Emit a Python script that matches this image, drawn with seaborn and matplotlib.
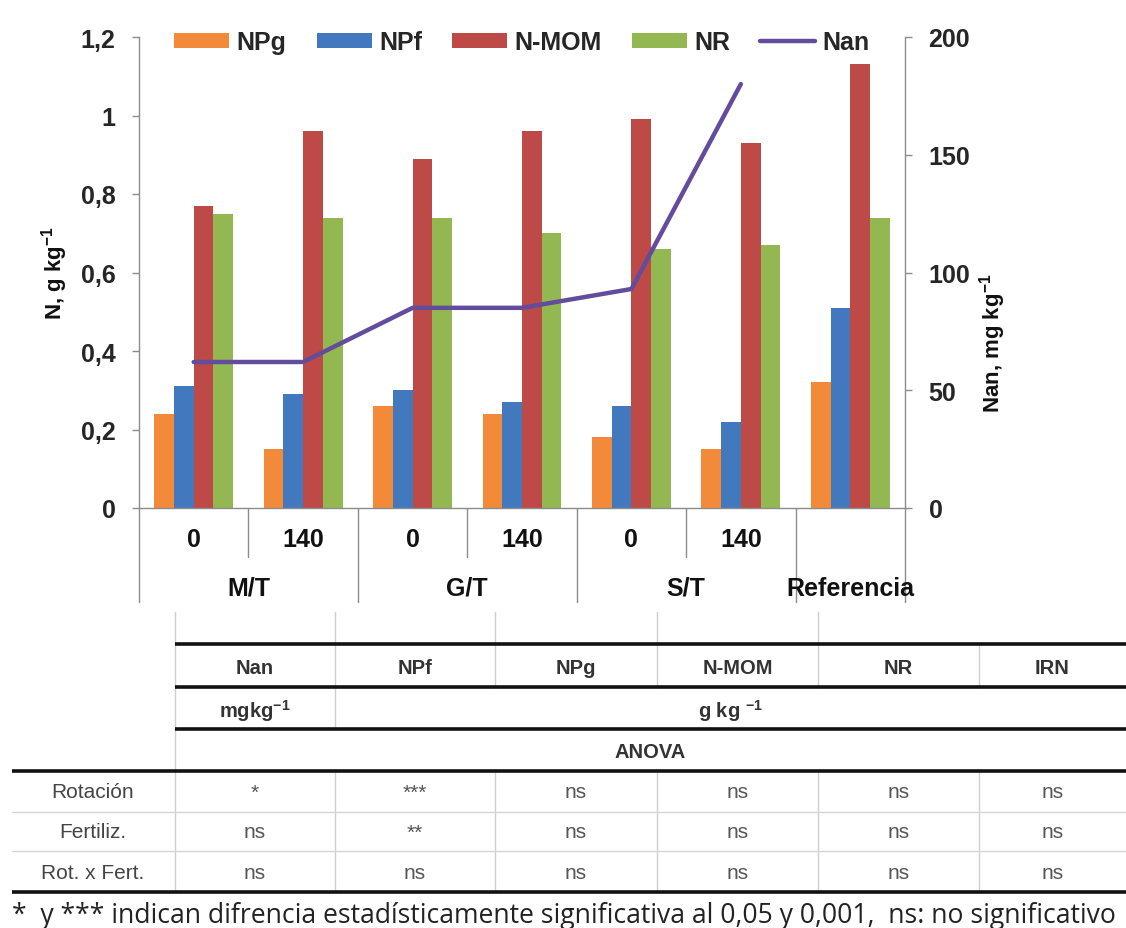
import numpy as np
import pandas as pd
import matplotlib
matplotlib.use("Agg")
import matplotlib.pyplot as plt
import matplotlib.transforms as mtransforms
from matplotlib.patches import Patch
from matplotlib.lines import Line2D
from matplotlib.ticker import FuncFormatter
import seaborn as sns

# ---- data -------------------------------------------------------------
categories = ["M/T 0", "M/T 140", "G/T 0", "G/T 140", "S/T 0", "S/T 140", "Referencia"]
dose_labels = ["0", "140", "0", "140", "0", "140", ""]
rotation_labels = ["M/T", "G/T", "S/T", "Referencia"]
rotation_pos = [0.5, 2.5, 4.5, 6.0]
series = ["NPg", "NPf", "N-MOM", "NR"]
npg = [0.24, 0.15, 0.26, 0.24, 0.18, 0.15, 0.32]
npf = [0.31, 0.29, 0.30, 0.27, 0.26, 0.22, 0.51]
nmom = [0.77, 0.96, 0.89, 0.96, 0.99, 0.93, 1.13]
nr = [0.75, 0.74, 0.74, 0.70, 0.66, 0.67, 0.74]
nan_mg = [62, 62, 85, 85, 93, 180]          # Nan, mg kg-1 (no value for Referencia)
left_ticks = [0, 0.2, 0.4, 0.6, 0.8, 1.0, 1.2]
right_ticks = [0, 50, 100, 150, 200]

table_cols = ["Nan", "NPf", "NPg", "N-MOM", "NR", "IRN"]
table_rows = ["Rotación", "Fertiliz.", "Rot. x Fert."]
table_vals = [
    ["*", "***", "ns", "ns", "ns", "ns"],
    ["ns", "**", "ns", "ns", "ns", "ns"],
    ["ns", "ns", "ns", "ns", "ns", "ns"],
]
footnote = "*  y *** indican difrencia estadísticamente significativa al 0,05 y 0,001,  ns: no significativo"

bar_colors = ["#F28A3A", "#4178BE", "#BD4A47", "#93B851"]
line_color = "#634C9C"
axis_grey = "#8C8C8C"

# ---- style --------------------------------------------------------------
sns.set_theme(style="white")
plt.rcParams["font.family"] = ["Liberation Sans", "DejaVu Sans"]
plt.rcParams["mathtext.fontset"] = "custom"
plt.rcParams["mathtext.rm"] = "Liberation Sans"
plt.rcParams["mathtext.bf"] = "Liberation Sans:bold"

W, H = 1126, 929
fig = plt.figure(figsize=(W / 100, H / 100), dpi=100)
fig.patch.set_facecolor("white")

x0, x1, y0, y1 = 139, 905, 38, 509   # plot area in pixels
ax = fig.add_axes([x0 / W, 1 - y1 / H, (x1 - x0) / W, (y1 - y0) / H])

df = pd.DataFrame({
    "cat": np.repeat(categories, len(series)),
    "serie": series * len(categories),
    "value": np.ravel(np.column_stack([npg, npf, nmom, nr])),
})
sns.barplot(data=df, x="cat", y="value", hue="serie", order=categories,
            hue_order=series, palette=bar_colors, width=0.72, gap=0,
            saturation=1, linewidth=0, legend=False, ax=ax)

ax.set_ylim(0, 1.2)
ax.set_xlim(-0.5, len(categories) - 0.5)
ax.set_yticks(left_ticks)
ax.yaxis.set_major_formatter(FuncFormatter(lambda v, p: f"{v:g}".replace(".", ",")))
ax.set_xlabel("")
ax.set_ylabel("")
ax.tick_params(axis="x", bottom=False, labelbottom=False)
ax.tick_params(axis="y", left=True, right=False, length=5, width=1, color=axis_grey,
               direction="out", pad=12, labelsize=18)
for lab in ax.get_yticklabels():
    lab.set_fontweight("bold")
for side in ["top", "right"]:
    ax.spines[side].set_visible(False)
for side in ["left", "bottom"]:
    ax.spines[side].set_color(axis_grey)
    ax.spines[side].set_linewidth(1)

# secondary axis for Nan
ax2 = ax.twinx()
sns.lineplot(x=np.arange(len(nan_mg)), y=nan_mg, color=line_color, linewidth=3.2,
             ax=ax2, legend=False)
ax2.set_ylim(0, 200)
ax2.set_xlim(-0.5, len(categories) - 0.5)
ax2.set_yticks(right_ticks)
ax2.set_ylabel("")
ax2.tick_params(axis="y", right=True, left=False, length=5, width=1, color=axis_grey,
                direction="out", pad=12, labelsize=18)
for lab in ax2.get_yticklabels():
    lab.set_fontweight("bold")
for side in ["top", "left", "bottom"]:
    ax2.spines[side].set_visible(False)
ax2.spines["right"].set_color(axis_grey)
ax2.spines["right"].set_linewidth(1)

# two-level category axis
trans = mtransforms.blended_transform_factory(ax.transData, ax.transAxes)
long_y = (y1 - 603) / (y1 - y0)
short_y = (y1 - 558) / (y1 - y0)
for xs in [-0.5, 1.5, 3.5, 5.5, 6.5]:
    ax.plot([xs, xs], [0, long_y], transform=trans, color=axis_grey, lw=1, clip_on=False)
for xs in [0.5, 2.5, 4.5]:
    ax.plot([xs, xs], [0, short_y], transform=trans, color=axis_grey, lw=1, clip_on=False)
for i, lab in enumerate(dose_labels):
    ax.text(i, (y1 - 540) / (y1 - y0), lab, transform=trans, ha="center", va="center",
            fontsize=18, fontweight="bold", color="#111111")
for xp, lab in zip(rotation_pos, rotation_labels):
    ax.text(xp, (y1 - 589) / (y1 - y0), lab, transform=trans, ha="center", va="center",
            fontsize=18, fontweight="bold", color="#111111")

fig.text(55 / W, 1 - 273 / H, r"N, g kg$^{\mathbf{-1}}$", rotation=90, ha="center",
         va="center", fontsize=16, fontweight="bold", color="#111111")
fig.text(993 / W, 1 - 343 / H, r"Nan, mg kg$^{\mathbf{-1}}$", rotation=90, ha="center",
         va="center", fontsize=16, fontweight="bold", color="#111111")

handles = [Patch(facecolor=c, edgecolor="none", label=s) for c, s in zip(bar_colors, series)]
handles.append(Line2D([], [], color=line_color, lw=3.2, label="Nan"))
fig.legend(handles=handles, loc="center", bbox_to_anchor=(522 / W, 1 - 43 / H),
           bbox_transform=fig.transFigure, ncol=5, frameon=False,
           prop={"weight": "bold", "size": 18}, handlelength=2.2, handleheight=0.55,
           handletextpad=0.3, columnspacing=1.2, borderpad=0)

# ---- ANOVA table (pixel coordinates) ------------------------------------
tx = fig.add_axes([0, 0, 1, 1], facecolor="none")
tx.set_xlim(0, W)
tx.set_ylim(H, 0)
tx.axis("off")

col_edges = [175, 335, 495, 657, 818, 979, 1126]
grid_c = "#CFCFCF"
# light vertical rules
vsegs = [
    (175, 613, 893),
    (335, 613, 730), (335, 772, 893),
    (495, 613, 688), (495, 772, 893),
    (657, 613, 688), (657, 772, 893),
    (818, 613, 688), (818, 772, 893),
    (979, 645, 688), (979, 772, 893),
]
for xv, ya, yb in vsegs:
    tx.plot([xv, xv], [ya, yb], color=grid_c, lw=1)
# thick horizontal rules
for yv, xa in [(645, 175), (688, 175), (730, 175), (772, 12), (893, 12)]:
    tx.plot([xa, W], [yv, yv], color="#111111", lw=2.6, solid_capstyle="butt")
for yv in [813, 852]:
    tx.plot([12, W], [yv, yv], color="#D5D5D5", lw=1)

head_fs = 14.5
body_fs = 15
centers = [(a + b) / 2 for a, b in zip(col_edges[:-1], col_edges[1:])]
for cx, name in zip(centers, table_cols):
    tx.text(cx, 668, name, ha="center", va="center", fontsize=head_fs, fontweight="bold",
            color="#333333")
tx.text(centers[0], 711, r"mgkg$^{\mathbf{-1}}$", ha="center", va="center", fontsize=head_fs,
        fontweight="bold", color="#333333")
tx.text((335 + W) / 2, 711, r"g kg $^{\mathbf{-1}}$", ha="center", va="center",
        fontsize=head_fs, fontweight="bold", color="#333333")
tx.text((175 + W) / 2, 752, "ANOVA", ha="center", va="center", fontsize=head_fs,
        fontweight="bold", color="#333333")

row_y = [793, 833, 874]
for ry, rname, vals in zip(row_y, table_rows, table_vals):
    tx.text(93, ry, rname, ha="center", va="center", fontsize=body_fs, color="#444444")
    for cx, v in zip(centers, vals):
        tx.text(cx, ry, v, ha="center", va="center", fontsize=body_fs, color="#555555")

fn = tx.text(12, 916, footnote, ha="left", va="center", fontsize=16,
             family=["Open Sans", "DejaVu Sans"], color="#222222")
fig.canvas.draw()
bb = fn.get_window_extent()
fn.set_fontsize(16 * (1103 / bb.width))

fig.savefig("out.png", dpi=100, facecolor="white")
